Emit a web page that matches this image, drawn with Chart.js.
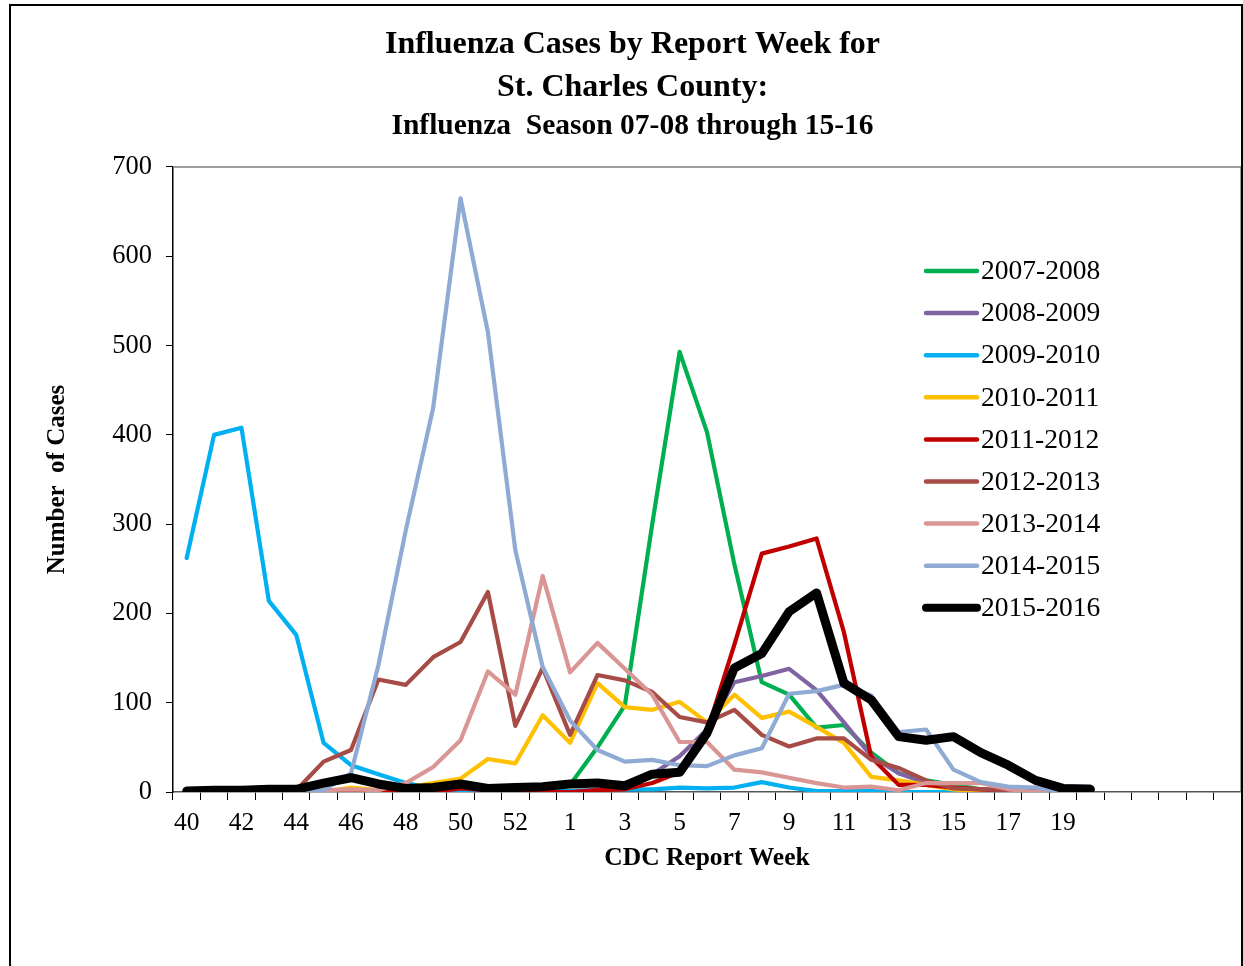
<!DOCTYPE html>
<html>
<head>
<meta charset="utf-8">
<title>Influenza Cases by Report Week</title>
<script src="https://cdn.jsdelivr.net/npm/chart.js@4.4.1/dist/chart.umd.min.js"></script>
<style>
  body { margin: 0; background: #fff; }
  #wrap { position: absolute; left: 0; top: 0; width: 1243px; height: 966px; }
  #frame { position: absolute; left: 9px; top: 4px; width: 1234px; height: 980px; border: 2px solid #000; border-bottom: none; box-sizing: border-box; pointer-events: none; }
</style>
</head>
<body>
<div id="wrap"><canvas id="gripe"></canvas></div>
<div id="frame"></div>
<script>
// semanas CDC (40-53, 1-20) + categorias vazias no final
const semanas = ["40","41","42","43","44","45","46","47","48","49","50","51","52","53",
  "1","2","3","4","5","6","7","8","9","10","11","12","13","14","15","16","17","18","19","20",
  "","","","",""];

const temporadas = ["2007-2008","2008-2009","2009-2010","2010-2011","2011-2012",
  "2012-2013","2013-2014","2014-2015","2015-2016"];

const s0708 = [0,1,2,1,1,0,0,0,0,0,0,0,1,3, 8,50,97,300,493,403,255,123,109,72,75,44,21,13,8,3,1,0,0,0];
const s0809 = [0,0,0,0,0,0,0,0,0,0,0,0,0,0, 1,2,5,20,40,70,123,130,138,114,78,40,21,10,5,3,2,3,6,6];
const s0910 = [262,400,408,214,176,55,30,20,10,4,2,1,1,1, 1,2,3,3,5,4,5,11,5,1,1,1,0,0,0,0,0,0,0,0];
const s1011 = [0,0,0,0,0,0,5,2,5,10,15,37,32,86, 55,122,95,92,101,78,109,83,90,73,55,17,13,8,3,0,0,0,0,0];
const s1112 = [0,0,0,0,0,0,0,0,0,0,4,2,1,0, 0,2,3,10,22,68,165,267,275,284,179,39,8,8,5,3,0,0,0,0];
const s1213 = [0,0,0,0,2,34,47,126,120,151,168,224,74,139, 64,131,125,112,84,78,92,64,51,60,60,36,27,13,4,3,2,0,0,0];
const s1314 = [0,0,0,0,0,2,3,2,10,28,58,135,109,242, 134,167,138,109,56,56,25,22,16,10,5,6,2,10,10,10,3,0,0,0];
const s1415 = [0,0,0,0,0,2,21,142,293,430,665,515,271,140, 80,47,34,36,30,29,41,49,110,113,120,108,67,70,25,11,6,5,0,0];
const s1516 = [1,2,2,3,3,10,16,9,4,5,9,4,5,6, 9,10,7,20,22,66,139,155,202,223,122,103,62,58,62,44,30,13,4,3];

const series = [s0708, s0809, s0910, s1011, s1112, s1213, s1314, s1415, s1516];
const cores = ["#00B050","#8064A2","#00B0F0","#FFC000","#C00000","#A64B46","#D99694","#8FAAD3","#000000"];

const fonte = "'Liberation Serif', 'Times New Roman', serif";

// legenda desenhada dentro da area do grafico
const legendaPlugin = {
  id: "legendaDentro",
  afterDraw(chart) {
    const ctx = chart.ctx;
    ctx.save();
    chart.data.datasets.forEach((ds, i) => {
      const y = 271 + i * 42.1;
      ctx.strokeStyle = ds.borderColor;
      ctx.lineWidth = i === 8 ? 8 : 4.5;
      ctx.lineCap = "round";
      ctx.beginPath();
      ctx.moveTo(926, y);
      ctx.lineTo(977, y);
      ctx.stroke();
      ctx.fillStyle = "#000";
      ctx.font = "27.5px " + fonte;
      ctx.textBaseline = "middle";
      ctx.textAlign = "left";
      ctx.fillText(ds.label, 981, y + 1);
    });
    ctx.restore();
  },
};

// borda cinza da area do grafico (topo e direita)
const bordaPlugin = {
  id: "bordaArea",
  beforeDatasetsDraw(chart) {
    const { ctx, chartArea } = chart;
    ctx.save();
    ctx.strokeStyle = "#808080";
    ctx.lineWidth = 1.5;
    ctx.beginPath();
    ctx.moveTo(chartArea.left, chartArea.top);
    ctx.lineTo(chartArea.right, chartArea.top);
    ctx.lineTo(chartArea.right, chartArea.bottom);
    ctx.stroke();
    ctx.restore();
  },
};

function carregarGrafico() {
  const datasets = series.map((dados, i) => ({
    label: temporadas[i],
    data: dados,
    borderColor: cores[i],
    backgroundColor: cores[i],
    borderWidth: i === 8 ? 9 : 4.2,
    pointRadius: 0,
    tension: 0,
    fill: false,
    borderJoinStyle: "round",
    borderCapStyle: "round",
    order: -i,
  }));

  new Chart(document.getElementById("gripe"), {
    type: "line",
    data: { labels: semanas, datasets: datasets },
    plugins: [bordaPlugin, legendaPlugin],
    options: {
      responsive: true,
      maintainAspectRatio: false,
      animation: false,
      layout: { padding: { left: 24, right: 2, top: 0, bottom: 0 } },
      plugins: {
        legend: { display: false },
        tooltip: { enabled: false },
        title: {
          display: true,
          text: ["Influenza Cases by Report Week for", "St. Charles County:"],
          color: "#000",
          font: { family: fonte, size: 32, weight: "bold", lineHeight: 1.344 },
          padding: { top: 23.5, bottom: 0 },
        },
        subtitle: {
          display: true,
          text: "Influenza  Season 07-08 through 15-16",
          color: "#000",
          font: { family: fonte, size: 29.5, weight: "bold", lineHeight: 1.05 },
          padding: { top: 1, bottom: 25.5 },
        },
      },
      scales: {
        x: {
          type: "category",
          offset: true,
          grid: { display: true, offset: true, drawOnChartArea: false, drawTicks: true, tickLength: 8, color: "#000", lineWidth: 1 },
          border: { display: true, color: "#555", width: 1.5 },
          ticks: {
            autoSkip: false,
            maxRotation: 0,
            color: "#000",
            padding: 8,
            font: { family: fonte, size: 25.5 },
            callback: function (v, i) {
              return i % 2 === 0 ? this.getLabelForValue(v) : "";
            },
          },
          title: {
            display: true,
            text: "CDC Report Week",
            color: "#000",
            font: { family: fonte, size: 25.5, weight: "bold" },
            padding: { top: 0, bottom: 92.7 },
          },
          afterFit(s) { s.height = 174; },
        },
        y: {
          min: 0,
          max: 700,
          grid: { display: true, drawOnChartArea: false, drawTicks: true, tickLength: 7, color: "#000", lineWidth: 1 },
          border: { display: true, color: "#000", width: 1.5 },
          ticks: { stepSize: 100, color: "#000", padding: 14, font: { family: fonte, size: 26.5 } },
          title: {
            display: true,
            text: "Number  of Cases",
            color: "#000",
            font: { family: fonte, size: 25, weight: "bold" },
            padding: { top: 18.7, bottom: 0 },
          },
          afterFit(s) { s.width = 149; },
        },
      },
    },
  });
}

carregarGrafico();
</script>
</body>
</html>
